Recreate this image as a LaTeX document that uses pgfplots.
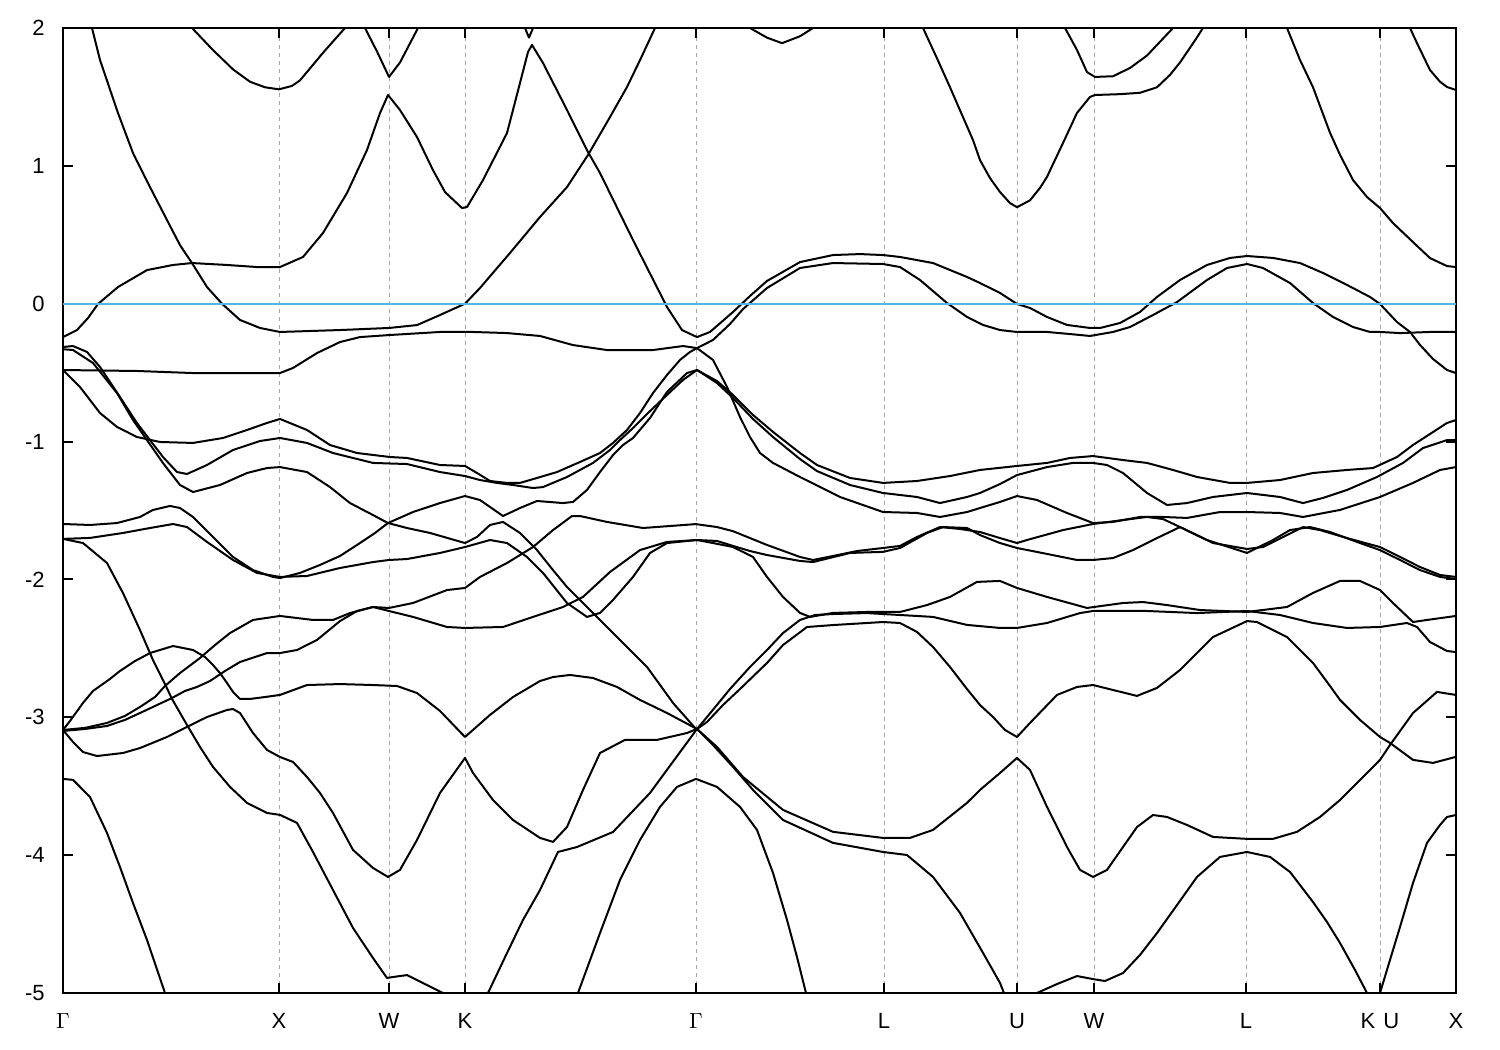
\documentclass[border=0pt]{standalone}
\usepackage{pgfplots}
\pgfplotsset{compat=1.18}
\usepackage{fontspec}
\setmainfont{Liberation Sans}
\definecolor{fermi}{RGB}{86,180,233}
\begin{document}
\begin{tikzpicture}
\begin{axis}[
  scale only axis, width=696.5pt, height=482.5pt,
  xmin=63, xmax=1456, ymin=-5, ymax=2,
  axis line style={line width=1pt},
  every tick/.style={black, line width=1pt},
  major tick length=5pt,
  tick align=inside,
  xtick={63,279,389,465,696,884,1017,1094,1246,1380,1456},
  xticklabels={$\Gamma$,X,W,K,$\Gamma$,L,U,W,L,{K\hspace{4pt}U},X},
  ytick={-5,-4,-3,-2,-1,0,1,2},
  yticklabels={-5,-4,-3,-2,-1,0,1,2},
  xmajorgrids,
  grid style={gray!70, line width=0.5pt, dash pattern=on 2pt off 2pt},
  tick label style={font=\fontsize{11}{13}\selectfont},
  yticklabel style={inner sep=0pt, xshift=-9pt},
  xticklabel style={inner sep=0pt, yshift=-10pt},
  band/.style={black, line width=1pt, mark=none, solid, line join=round},
]
% upper region
\addplot[band] coordinates {(185,2.07)(192,2.00)(213,1.84)(233,1.70)(250,1.61)(265,1.57)(279,1.555)(292,1.58)(300,1.62)(323,1.82)(345,2.00)(352,2.07)};
\addplot[band] coordinates {(360,2.07)(365,2.0)(377,1.83)(389,1.645)(400,1.75)(418,2.0)(423,2.07)};
\addplot[band] coordinates {(520,2.07)(525,2.0)(529,1.93)(533,2.0)(538,2.07)};
\addplot[band] coordinates {(745,2.07)(750,2.0)(767,1.93)(782,1.89)(800,1.94)(813,2.0)(820,2.04)};
\addplot[band] coordinates {(918,2.07)(923,2.0)(937,1.78)(950,1.57)(962,1.37)(973,1.187)(980,1.042)(990,0.911)(1000,0.81)(1010,0.73)(1017,0.70)(1030,0.75)(1040,0.84)(1047,0.92)(1063,1.166)(1077,1.384)(1090,1.50)(1095,1.514)(1120,1.52)(1140,1.53)(1157,1.57)(1170,1.66)(1180,1.75)(1195,1.91)(1203,2.0)(1210,2.07)};
\addplot[band] coordinates {(1062,2.07)(1065,2.0)(1077,1.84)(1087,1.68)(1095,1.645)(1113,1.65)(1130,1.71)(1147,1.80)(1173,2.0)(1182,2.07)};
\addplot[band] coordinates {(1283,2.07)(1287,2.0)(1300,1.768)(1313,1.57)(1330,1.24)(1340,1.08)(1353,0.897)(1367,0.774)(1380,0.694)(1393,0.585)(1413,0.447)(1430,0.331)(1447,0.273)(1456,0.266)};
\addplot[band] coordinates {(1405,2.07)(1410,2.0)(1417,1.89)(1430,1.695)(1440,1.61)(1447,1.572)(1456,1.55)};
% T1
\addplot[band] coordinates {(88,2.116)(92,2.0)(100,1.768)(118,1.383)(133,1.093)(150,0.846)(167,0.607)(180,0.425)(192,0.295)(207,0.121)(222,0.0)(240,-0.118)(260,-0.176)(280,-0.205)(340,-0.191)(389,-0.176)(417,-0.155)(440,-0.082)(465,0.0)(480,0.114)(510,0.368)(540,0.629)(567,0.846)(588,1.079)(610,1.354)(627,1.572)(641,1.782)(655,2.0)(660,2.07)};
% A
\addplot[band] coordinates {(63,-0.242)(77,-0.191)(88,-0.104)(98,-0.002)(118,0.121)(147,0.244)(173,0.281)(192,0.295)(227,0.281)(257,0.266)(280,0.266)(303,0.339)(323,0.513)(347,0.803)(367,1.115)(380,1.383)(388,1.514)(400,1.405)(417,1.209)(433,0.969)(445,0.810)(462,0.694)(467,0.701)(483,0.897)(507,1.238)(520,1.601)(528,1.826)(532,1.877)(543,1.746)(567,1.405)(588,1.100)(600,0.948)(633,0.462)(667,-0.024)(682,-0.191)(697,-0.242)(710,-0.205)(733,-0.060)(750,0.056)(767,0.165)(800,0.302)(833,0.353)(860,0.36)(883,0.353)(900,0.339)(933,0.295)(967,0.194)(980,0.150)(1000,0.078)(1017,-0.002)(1030,-0.031)(1047,-0.096)(1067,-0.154)(1090,-0.176)(1100,-0.176)(1120,-0.140)(1140,-0.060)(1157,0.049)(1180,0.172)(1207,0.281)(1230,0.332)(1247,0.346)(1273,0.332)(1300,0.295)(1323,0.223)(1347,0.136)(1370,0.049)(1380,-0.002)(1397,-0.133)(1410,-0.205)(1420,-0.299)(1433,-0.401)(1447,-0.481)(1456,-0.503)};
% B
\addplot[band] coordinates {(697,-0.322)(713,-0.263)(730,-0.147)(743,-0.039)(767,0.114)(800,0.259)(833,0.295)(883,0.288)(900,0.266)(920,0.172)(947,0.005)(967,-0.096)(983,-0.154)(1000,-0.191)(1017,-0.205)(1047,-0.205)(1070,-0.220)(1090,-0.234)(1113,-0.205)(1130,-0.169)(1153,-0.082)(1177,0.012)(1207,0.172)(1227,0.259)(1247,0.288)(1263,0.259)(1290,0.150)(1313,0.005)(1333,-0.096)(1353,-0.169)(1370,-0.205)(1380,-0.205)(1400,-0.213)(1430,-0.205)(1456,-0.205)};
% C
\addplot[band] coordinates {(63,-0.481)(137,-0.488)(193,-0.503)(227,-0.503)(280,-0.503)(293,-0.466)(317,-0.358)(340,-0.278)(360,-0.242)(390,-0.227)(440,-0.205)(473,-0.205)(507,-0.213)(540,-0.234)(573,-0.30)(607,-0.336)(653,-0.336)(683,-0.307)(697,-0.322)};
% c
\addplot[band] coordinates {(697,-0.322)(713,-0.408)(727,-0.604)(740,-0.822)(750,-0.967)(760,-1.083)(773,-1.155)(800,-1.257)(840,-1.402)(883,-1.511)(917,-1.518)(940,-1.547)(967,-1.511)(980,-1.482)(1000,-1.438)(1017,-1.395)(1037,-1.424)(1067,-1.518)(1093,-1.591)(1113,-1.583)(1140,-1.547)(1163,-1.547)(1187,-1.554)(1220,-1.511)(1247,-1.511)(1280,-1.518)(1303,-1.547)(1340,-1.496)(1380,-1.402)(1413,-1.30)(1440,-1.206)(1456,-1.185)};
% a
\addplot[band] coordinates {(697,-0.481)(717,-0.561)(733,-0.662)(753,-0.807)(773,-0.930)(800,-1.083)(817,-1.170)(850,-1.264)(883,-1.30)(917,-1.286)(950,-1.250)(980,-1.206)(1017,-1.177)(1047,-1.155)(1070,-1.119)(1093,-1.105)(1123,-1.134)(1147,-1.155)(1173,-1.206)(1197,-1.257)(1230,-1.30)(1247,-1.30)(1280,-1.279)(1313,-1.228)(1347,-1.206)(1373,-1.192)(1397,-1.112)(1413,-1.025)(1447,-0.865)(1456,-0.844)};
% b
\addplot[band] coordinates {(697,-0.481)(717,-0.575)(733,-0.684)(753,-0.836)(773,-0.967)(800,-1.127)(817,-1.214)(850,-1.315)(883,-1.373)(917,-1.402)(940,-1.446)(967,-1.402)(980,-1.373)(1000,-1.308)(1017,-1.243)(1047,-1.185)(1073,-1.155)(1093,-1.155)(1107,-1.170)(1123,-1.228)(1147,-1.373)(1167,-1.460)(1187,-1.446)(1213,-1.402)(1247,-1.373)(1280,-1.402)(1303,-1.446)(1323,-1.409)(1347,-1.351)(1377,-1.257)(1403,-1.155)(1423,-1.047)(1447,-0.989)(1456,-0.989)};
% f-d
\addplot[band] coordinates {(697,-1.60)(717,-1.62)(733,-1.65)(767,-1.75)(800,-1.837)(813,-1.859)(833,-1.83)(857,-1.794)(883,-1.772)(900,-1.757)(917,-1.692)(940,-1.62)(960,-1.634)(980,-1.656)(1000,-1.70)(1017,-1.736)(1027,-1.714)(1063,-1.642)(1093,-1.598)(1123,-1.569)(1147,-1.547)(1163,-1.562)(1180,-1.62)(1213,-1.736)(1247,-1.779)(1263,-1.765)(1287,-1.678)(1303,-1.62)(1320,-1.642)(1347,-1.70)(1380,-1.765)(1400,-1.837)(1420,-1.91)(1440,-1.968)(1456,-1.982)};
% g-e
\addplot[band] coordinates {(697,-1.714)(717,-1.721)(733,-1.757)(750,-1.794)(767,-1.823)(800,-1.866)(813,-1.874)(850,-1.808)(883,-1.80)(900,-1.772)(927,-1.663)(943,-1.62)(967,-1.627)(980,-1.678)(1000,-1.736)(1017,-1.772)(1047,-1.815)(1077,-1.859)(1093,-1.859)(1113,-1.845)(1133,-1.787)(1157,-1.70)(1180,-1.62)(1207,-1.714)(1247,-1.808)(1273,-1.714)(1290,-1.642)(1310,-1.62)(1330,-1.656)(1360,-1.736)(1380,-1.787)(1400,-1.859)(1420,-1.932)(1440,-1.982)(1456,-1.997)};
% h
\addplot[band] coordinates {(697,-1.714)(713,-1.736)(733,-1.765)(753,-1.837)(767,-1.982)(783,-2.127)(800,-2.243)(810,-2.272)(833,-2.243)(867,-2.236)(883,-2.236)(900,-2.236)(927,-2.186)(950,-2.127)(977,-2.018)(1000,-2.011)(1017,-2.062)(1047,-2.127)(1087,-2.207)(1123,-2.171)(1143,-2.164)(1167,-2.186)(1200,-2.222)(1247,-2.236)(1287,-2.2)(1313,-2.098)(1340,-2.011)(1360,-2.011)(1380,-2.077)(1393,-2.171)(1413,-2.309)(1427,-2.294)(1456,-2.265)};
% i
\addplot[band] coordinates {(697,-3.085)(707,-2.998)(730,-2.795)(750,-2.635)(767,-2.512)(783,-2.389)(800,-2.294)(815,-2.258)(833,-2.251)(867,-2.244)(883,-2.251)(900,-2.258)(933,-2.272)(967,-2.33)(1000,-2.352)(1017,-2.352)(1047,-2.316)(1080,-2.244)(1093,-2.229)(1147,-2.229)(1197,-2.244)(1247,-2.229)(1280,-2.258)(1313,-2.316)(1347,-2.352)(1380,-2.345)(1407,-2.316)(1417,-2.345)(1430,-2.454)(1447,-2.519)(1456,-2.527)};
% j
\addplot[band] coordinates {(697,-3.085)(707,-3.034)(723,-2.911)(740,-2.795)(767,-2.606)(783,-2.476)(807,-2.345)(833,-2.331)(867,-2.316)(883,-2.309)(900,-2.316)(917,-2.381)(933,-2.49)(950,-2.635)(967,-2.795)(980,-2.911)(993,-2.998)(1005,-3.092)(1017,-3.143)(1030,-3.041)(1057,-2.838)(1077,-2.78)(1093,-2.766)(1113,-2.802)(1137,-2.845)(1157,-2.787)(1180,-2.657)(1213,-2.418)(1247,-2.302)(1257,-2.309)(1287,-2.418)(1313,-2.606)(1330,-2.773)(1340,-2.874)(1360,-3.019)(1380,-3.143)(1390,-3.186)(1413,-3.309)(1433,-3.331)(1456,-3.287)};
% k
\addplot[band] coordinates {(697,-3.085)(717,-3.215)(743,-3.433)(783,-3.672)(833,-3.831)(883,-3.875)(910,-3.875)(933,-3.817)(967,-3.621)(980,-3.527)(1000,-3.404)(1017,-3.295)(1030,-3.382)(1047,-3.650)(1067,-3.941)(1080,-4.107)(1093,-4.158)(1107,-4.107)(1123,-3.941)(1137,-3.796)(1153,-3.709)(1167,-3.723)(1187,-3.781)(1213,-3.868)(1247,-3.882)(1273,-3.882)(1297,-3.831)(1320,-3.723)(1340,-3.600)(1363,-3.433)(1380,-3.309)(1390,-3.201)(1413,-2.969)(1437,-2.816)(1456,-2.838)};
% l
\addplot[band] coordinates {(697,-3.085)(713,-3.201)(733,-3.360)(753,-3.527)(783,-3.745)(833,-3.911)(883,-3.977)(907,-3.999)(933,-4.158)(960,-4.419)(983,-4.709)(1000,-4.927)(1004,-5.0)(1008,-5.09)};
% m
\addplot[band] coordinates {(575,-5.09)(578,-5.0)(600,-4.565)(620,-4.18)(640,-3.89)(660,-3.65)(677,-3.505)(696,-3.447)(717,-3.505)(740,-3.65)(757,-3.817)(773,-4.129)(787,-4.47)(797,-4.739)(806,-5.0)(808,-5.09)};
% n
\addplot[band] coordinates {(1030,-5.09)(1037,-5.0)(1057,-4.935)(1077,-4.877)(1093,-4.899)(1105,-4.913)(1123,-4.855)(1140,-4.724)(1157,-4.565)(1177,-4.362)(1197,-4.158)(1220,-4.013)(1247,-3.977)(1270,-4.013)(1290,-4.122)(1313,-4.340)(1327,-4.485)(1340,-4.637)(1355,-4.833)(1367,-5.0)(1370,-5.09)};
% o
\addplot[band] coordinates {(1377,-5.09)(1380,-5.0)(1390,-4.76)(1400,-4.521)(1413,-4.202)(1427,-3.911)(1440,-3.781)(1447,-3.723)(1456,-3.709)};
% left steep upper -> Q
\addplot[band] coordinates {(63,-0.314)(73,-0.307)(87,-0.35)(100,-0.459)(120,-0.677)(137,-0.866)(150,-0.989)(163,-1.112)(177,-1.221)(187,-1.235)(207,-1.17)(233,-1.061)(260,-0.996)(280,-0.974)(307,-1.010)(333,-1.083)(373,-1.155)(407,-1.163)(440,-1.221)(465,-1.250)(480,-1.279)(497,-1.30)(513,-1.315)(533,-1.337)(543,-1.330)(567,-1.257)(593,-1.155)(610,-1.061)(620,-0.989)(633,-0.902)(647,-0.80)(667,-0.662)(683,-0.553)(697,-0.481)};
% left steep lower -> D
\addplot[band] coordinates {(63,-0.33)(73,-0.336)(93,-0.43)(117,-0.648)(133,-0.844)(147,-0.989)(163,-1.156)(180,-1.315)(193,-1.366)(220,-1.315)(247,-1.228)(267,-1.192)(280,-1.185)(307,-1.221)(330,-1.330)(350,-1.446)(373,-1.533)(388,-1.591)(407,-1.627)(430,-1.663)(465,-1.736)(477,-1.692)(490,-1.605)(503,-1.583)(520,-1.663)(537,-1.787)(553,-1.932)(567,-2.055)(580,-2.149)(597,-2.272)(613,-2.389)(627,-2.49)(647,-2.635)(663,-2.795)(673,-2.896)(696,-3.085)};
% third -> P
\addplot[band] coordinates {(63,-0.481)(80,-0.604)(100,-0.793)(117,-0.894)(137,-0.967)(160,-1.003)(193,-1.010)(223,-0.974)(247,-0.916)(267,-0.865)(280,-0.836)(307,-0.916)(330,-1.025)(357,-1.083)(390,-1.112)(407,-1.119)(440,-1.170)(465,-1.177)(477,-1.228)(490,-1.286)(507,-1.30)(520,-1.30)(537,-1.264)(557,-1.221)(580,-1.148)(600,-1.083)(613,-1.010)(627,-0.916)(640,-0.793)(653,-0.648)(667,-0.517)(680,-0.408)(690,-0.350)(697,-0.322)};
% curve 8 -> C3 -> R
\addplot[band] coordinates {(63,-1.598)(90,-1.605)(117,-1.591)(140,-1.547)(153,-1.496)(170,-1.467)(180,-1.482)(193,-1.547)(213,-1.692)(233,-1.837)(253,-1.932)(273,-1.982)(280,-1.990)(300,-1.953)(320,-1.895)(340,-1.830)(360,-1.736)(375,-1.663)(388,-1.591)(413,-1.511)(440,-1.446)(465,-1.395)(480,-1.424)(503,-1.540)(520,-1.482)(537,-1.431)(563,-1.446)(573,-1.438)(587,-1.351)(600,-1.221)(613,-1.098)(623,-1.025)(633,-0.974)(650,-0.829)(667,-0.640)(687,-0.503)(697,-0.481)};
% curve 9 -> E
\addplot[band] coordinates {(63,-1.706)(90,-1.699)(123,-1.663)(150,-1.627)(173,-1.598)(187,-1.62)(207,-1.728)(233,-1.859)(257,-1.953)(280,-1.982)(307,-1.975)(340,-1.917)(373,-1.874)(389,-1.859)(407,-1.852)(440,-1.808)(465,-1.765)(490,-1.714)(507,-1.736)(527,-1.837)(543,-1.953)(567,-2.171)(587,-2.272)(600,-2.243)(613,-2.149)(633,-1.982)(650,-1.808)(667,-1.736)(697,-1.714)};
% D10
\addplot[band] coordinates {(63,-1.706)(83,-1.736)(107,-1.881)(123,-2.099)(140,-2.367)(153,-2.585)(165,-2.759)(172,-2.867)(187,-3.056)(200,-3.215)(213,-3.36)(230,-3.505)(247,-3.621)(267,-3.694)(280,-3.708)(297,-3.766)(313,-3.977)(333,-4.253)(353,-4.528)(373,-4.746)(387,-4.891)(393,-4.884)(407,-4.870)(423,-4.928)(443,-5.0)(460,-5.09)};
% G1 -> G
\addplot[band] coordinates {(63,-3.092)(85,-3.077)(107,-3.041)(125,-2.99)(140,-2.925)(155,-2.853)(165,-2.773)(180,-2.679)(200,-2.570)(215,-2.476)(230,-2.389)(253,-2.294)(280,-2.265)(313,-2.294)(333,-2.294)(350,-2.244)(373,-2.200)(389,-2.229)(413,-2.272)(447,-2.345)(465,-2.352)(503,-2.345)(533,-2.272)(563,-2.200)(583,-2.127)(610,-1.946)(640,-1.787)(667,-1.728)(697,-1.714)};
% G2 -> F -> f
\addplot[band] coordinates {(63,-3.099)(85,-3.085)(107,-3.063)(125,-3.019)(140,-2.969)(155,-2.918)(172,-2.860)(185,-2.809)(197,-2.780)(210,-2.737)(225,-2.664)(240,-2.599)(267,-2.534)(280,-2.534)(297,-2.512)(317,-2.439)(340,-2.302)(357,-2.229)(373,-2.200)(389,-2.207)(413,-2.171)(447,-2.077)(465,-2.062)(480,-1.982)(507,-1.881)(533,-1.765)(553,-1.642)(572,-1.540)(580,-1.540)(607,-1.583)(643,-1.627)(697,-1.598)};
% ii -> q
\addplot[band] coordinates {(63,-3.092)(70,-3.027)(83,-2.896)(93,-2.809)(110,-2.722)(120,-2.664)(135,-2.592)(150,-2.534)(173,-2.483)(193,-2.512)(205,-2.563)(213,-2.621)(220,-2.679)(227,-2.751)(233,-2.816)(240,-2.867)(250,-2.867)(265,-2.853)(280,-2.838)(307,-2.766)(340,-2.759)(373,-2.766)(397,-2.773)(417,-2.824)(440,-2.954)(465,-3.143)(490,-2.983)(513,-2.853)(540,-2.737)(553,-2.708)(570,-2.693)(593,-2.715)(617,-2.780)(640,-2.874)(667,-2.969)(697,-3.085)};
% v -> curve 4
\addplot[band] coordinates {(63,-3.092)(73,-3.179)(83,-3.252)(97,-3.281)(123,-3.259)(140,-3.223)(167,-3.143)(187,-3.070)(207,-2.998)(227,-2.947)(233,-2.940)(240,-2.969)(253,-3.114)(267,-3.237)(280,-3.288)(293,-3.324)(307,-3.433)(320,-3.549)(333,-3.694)(353,-3.962)(373,-4.093)(388,-4.158)(400,-4.107)(417,-3.89)(440,-3.549)(465,-3.295)(473,-3.404)(493,-3.600)(513,-3.745)(540,-3.875)(553,-3.904)(567,-3.796)(583,-3.527)(600,-3.259)(625,-3.164)(657,-3.164)(687,-3.114)(697,-3.085)};
% p
\addplot[band] coordinates {(484,-5.09)(488,-5.0)(507,-4.710)(523,-4.47)(540,-4.253)(558,-3.977)(577,-3.941)(613,-3.832)(650,-3.549)(697,-3.085)};
% vi
\addplot[band] coordinates {(63,-3.447)(73,-3.454)(90,-3.578)(107,-3.839)(120,-4.086)(133,-4.347)(147,-4.615)(165,-5.0)(169,-5.09)};
% Fermi level
\addplot[fermi, line width=1pt, mark=none] coordinates {(63,0) (1456,0)};
\end{axis}
\pgfresetboundingbox
\path ([xshift=-31.5pt,yshift=-28.5pt]current axis.south west) rectangle ([xshift=22pt,yshift=14pt]current axis.north east);
\end{tikzpicture}
\end{document}
